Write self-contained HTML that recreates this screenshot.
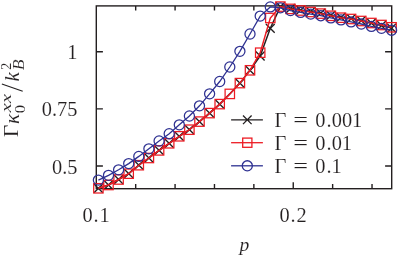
<!DOCTYPE html>
<html><head><meta charset="utf-8"><title>plot</title>
<style>html,body{margin:0;padding:0;background:#fff;}svg{display:block;will-change:transform;}text{font-family:"Liberation Serif",serif;fill:#231F20;stroke:#fff;stroke-width:0.1px;}</style>
</head><body>
<svg width="398" height="255" viewBox="0 0 398 255">
<rect x="0" y="0" width="398" height="255" fill="#fff"/>
<g stroke="#231F20" stroke-width="1.4" fill="none">
<rect x="96.3" y="5.9" width="295.4" height="182.8"/>
<path d="M135.69 188.70v-4.6M135.69 5.90v4.6"/>
<path d="M175.08 188.70v-4.6M175.08 5.90v4.6"/>
<path d="M214.47 188.70v-4.6M214.47 5.90v4.6"/>
<path d="M253.86 188.70v-4.6M253.86 5.90v4.6"/>
<path d="M293.25 188.70v-6.5M293.25 5.90v6.5"/>
<path d="M332.64 188.70v-4.6M332.64 5.90v4.6"/>
<path d="M372.03 188.70v-4.6M372.03 5.90v4.6"/>
<path d="M96.30 51.80h6.6M391.70 51.80h-6.6"/>
<path d="M96.30 108.90h6.6M391.70 108.90h-6.6"/>
<path d="M96.30 166.00h6.6M391.70 166.00h-6.6"/>
</g>
<g stroke="#231F20" fill="none">
<polyline stroke-width="1.5" points="98.4,188.3 108.5,185.0 118.6,179.5 128.7,173.7 138.8,165.2 148.9,158.0 159.1,150.4 169.2,143.3 179.3,136.3 189.4,129.7 199.5,121.6 209.6,113.1 219.7,104.1 229.8,93.9 239.9,83.1 250.0,70.3 260.2,56.0 270.3,28.3 280.4,6.6 290.5,8.5 300.6,10.1 310.7,11.6 320.8,13.2 330.9,15.4 341.0,17.3 351.1,18.6 361.3,20.6 371.4,23.2 381.5,25.5 391.6,28.1"/>
<path stroke-width="1.35" d="M94.0 183.9l8.8 8.8M94.0 192.7l8.8 -8.8M104.1 180.6l8.8 8.8M104.1 189.4l8.8 -8.8M114.2 175.1l8.8 8.8M114.2 183.9l8.8 -8.8M124.3 169.3l8.8 8.8M124.3 178.1l8.8 -8.8M134.4 160.8l8.8 8.8M134.4 169.6l8.8 -8.8M144.5 153.6l8.8 8.8M144.5 162.4l8.8 -8.8M154.7 146.0l8.8 8.8M154.7 154.8l8.8 -8.8M164.8 138.9l8.8 8.8M164.8 147.7l8.8 -8.8M174.9 131.9l8.8 8.8M174.9 140.7l8.8 -8.8M185.0 125.3l8.8 8.8M185.0 134.1l8.8 -8.8M195.1 117.2l8.8 8.8M195.1 126.0l8.8 -8.8M205.2 108.7l8.8 8.8M205.2 117.5l8.8 -8.8M215.3 99.7l8.8 8.8M215.3 108.5l8.8 -8.8M235.5 78.7l8.8 8.8M235.5 87.5l8.8 -8.8M245.6 65.9l8.8 8.8M245.6 74.7l8.8 -8.8M255.8 51.6l8.8 8.8M255.8 60.4l8.8 -8.8M265.9 23.9l8.8 8.8M265.9 32.7l8.8 -8.8M276.0 2.2l8.8 8.8M276.0 11.0l8.8 -8.8M286.1 4.1l8.8 8.8M286.1 12.9l8.8 -8.8M296.2 5.7l8.8 8.8M296.2 14.5l8.8 -8.8M306.3 7.2l8.8 8.8M306.3 16.0l8.8 -8.8M316.4 8.8l8.8 8.8M316.4 17.6l8.8 -8.8M326.5 11.0l8.8 8.8M326.5 19.8l8.8 -8.8M336.6 12.9l8.8 8.8M336.6 21.7l8.8 -8.8M346.8 14.2l8.8 8.8M346.8 23.0l8.8 -8.8M356.9 16.2l8.8 8.8M356.9 25.0l8.8 -8.8M367.0 18.8l8.8 8.8M367.0 27.6l8.8 -8.8M377.1 21.1l8.8 8.8M377.1 29.9l8.8 -8.8M387.2 23.7l8.8 8.8M387.2 32.5l8.8 -8.8"/>
</g>
<g stroke="#ED1C24" fill="none">
<polyline stroke-width="1.45" points="98.4,188.3 108.5,185.0 118.6,179.5 128.7,173.7 138.8,165.2 148.9,158.0 159.1,150.4 169.2,143.3 179.3,136.3 189.4,129.7 199.5,121.6 209.6,113.1 219.7,104.1 229.8,93.9 239.9,83.1 250.0,70.3 260.2,52.7 270.3,18.0 280.4,6.6 290.5,8.9 300.6,10.5 310.7,12.0 320.8,13.6 330.9,15.8 341.0,17.7 351.1,19.0 361.3,21.0 371.4,23.0 381.5,25.0 391.6,27.3"/>
<g stroke-width="1.25">
<rect x="93.7" y="183.6" width="9.4" height="9.4"/>
<rect x="103.8" y="180.3" width="9.4" height="9.4"/>
<rect x="113.9" y="174.8" width="9.4" height="9.4"/>
<rect x="124.0" y="169.0" width="9.4" height="9.4"/>
<rect x="134.1" y="160.5" width="9.4" height="9.4"/>
<rect x="144.2" y="153.3" width="9.4" height="9.4"/>
<rect x="154.4" y="145.7" width="9.4" height="9.4"/>
<rect x="164.5" y="138.6" width="9.4" height="9.4"/>
<rect x="174.6" y="131.6" width="9.4" height="9.4"/>
<rect x="184.7" y="125.0" width="9.4" height="9.4"/>
<rect x="194.8" y="116.9" width="9.4" height="9.4"/>
<rect x="204.9" y="108.4" width="9.4" height="9.4"/>
<rect x="215.0" y="99.4" width="9.4" height="9.4"/>
<rect x="225.1" y="89.2" width="9.4" height="9.4"/>
<rect x="235.2" y="78.4" width="9.4" height="9.4"/>
<rect x="245.3" y="65.6" width="9.4" height="9.4"/>
<rect x="255.5" y="48.0" width="9.4" height="9.4"/>
<rect x="265.6" y="13.3" width="9.4" height="9.4"/>
<rect x="275.7" y="1.9" width="9.4" height="9.4"/>
<rect x="285.8" y="4.2" width="9.4" height="9.4"/>
<rect x="295.9" y="5.8" width="9.4" height="9.4"/>
<rect x="306.0" y="7.3" width="9.4" height="9.4"/>
<rect x="316.1" y="8.9" width="9.4" height="9.4"/>
<rect x="326.2" y="11.1" width="9.4" height="9.4"/>
<rect x="336.3" y="13.0" width="9.4" height="9.4"/>
<rect x="346.4" y="14.3" width="9.4" height="9.4"/>
<rect x="356.6" y="16.3" width="9.4" height="9.4"/>
<rect x="366.7" y="18.3" width="9.4" height="9.4"/>
<rect x="376.8" y="20.3" width="9.4" height="9.4"/>
<rect x="386.9" y="22.6" width="9.4" height="9.4"/>
</g></g>
<g stroke="#2E3192" fill="none">
<polyline stroke-width="1.3" points="98.4,180.1 108.5,175.3 118.6,169.8 128.7,163.6 138.8,156.4 148.9,148.8 159.1,141.0 169.2,133.7 179.3,124.8 189.4,116.0 199.5,105.8 209.6,93.8 219.7,81.5 229.8,67.0 239.9,51.3 250.0,34.0 260.2,16.1 270.3,6.9 280.4,7.8 290.5,10.6 300.6,12.4 310.7,14.1 320.8,15.7 330.9,17.9 341.0,19.9 351.1,21.9 361.3,24.0 371.4,26.4 381.5,28.3 391.6,30.2"/>
<g stroke-width="1.25">
<circle cx="98.4" cy="180.1" r="5.05"/>
<circle cx="108.5" cy="175.3" r="5.05"/>
<circle cx="118.6" cy="169.8" r="5.05"/>
<circle cx="128.7" cy="163.6" r="5.05"/>
<circle cx="138.8" cy="156.4" r="5.05"/>
<circle cx="148.9" cy="148.8" r="5.05"/>
<circle cx="159.1" cy="141.0" r="5.05"/>
<circle cx="169.2" cy="133.7" r="5.05"/>
<circle cx="179.3" cy="124.8" r="5.05"/>
<circle cx="189.4" cy="116.0" r="5.05"/>
<circle cx="199.5" cy="105.8" r="5.05"/>
<circle cx="209.6" cy="93.8" r="5.05"/>
<circle cx="219.7" cy="81.5" r="5.05"/>
<circle cx="229.8" cy="67.0" r="5.05"/>
<circle cx="239.9" cy="51.3" r="5.05"/>
<circle cx="250.0" cy="34.0" r="5.05"/>
<circle cx="260.2" cy="16.1" r="5.05"/>
<circle cx="270.3" cy="6.9" r="5.05"/>
<circle cx="280.4" cy="7.8" r="5.05"/>
<circle cx="290.5" cy="10.6" r="5.05"/>
<circle cx="300.6" cy="12.4" r="5.05"/>
<circle cx="310.7" cy="14.1" r="5.05"/>
<circle cx="320.8" cy="15.7" r="5.05"/>
<circle cx="330.9" cy="17.9" r="5.05"/>
<circle cx="341.0" cy="19.9" r="5.05"/>
<circle cx="351.1" cy="21.9" r="5.05"/>
<circle cx="361.3" cy="24.0" r="5.05"/>
<circle cx="371.4" cy="26.4" r="5.05"/>
<circle cx="381.5" cy="28.3" r="5.05"/>
<circle cx="391.6" cy="30.2" r="5.05"/>
</g></g>
<g fill="none" stroke-width="1.3">
<path stroke="#231F20" d="M231.1 119.8H262.9M243.0 115.5l8.6 8.6M243.0 124.1l8.6 -8.6"/>
<path stroke="#ED1C24" stroke-width="1.3" d="M231.1 142.7H262.9"/><rect stroke="#ED1C24" stroke-width="1.3" x="242.7" y="138.1" width="9.2" height="9.2"/>
<path stroke="#2E3192" stroke-width="1.3" d="M231.1 165.8H262.9"/><circle stroke="#2E3192" stroke-width="1.3" cx="247.3" cy="165.8" r="5.05"/>
</g>
<g transform="translate(0 126.8) scale(1 1.05)">
<text x="274.4" y="0.0" font-size="20.4">Γ</text>
<text x="293.2" y="0.0" font-size="20.4" textLength="14.8" lengthAdjust="spacingAndGlyphs">=</text>
<text x="315.3 326.5 331.8 341.9 351.9" y="0.0" font-size="20.4">0.001</text>
</g>
<g transform="translate(0 149.8) scale(1 1.05)">
<text x="274.4" y="0.0" font-size="20.4">Γ</text>
<text x="293.2" y="0.0" font-size="20.4" textLength="14.8" lengthAdjust="spacingAndGlyphs">=</text>
<text x="315.3 326.5 331.8 341.7" y="0.0" font-size="20.4">0.01</text>
</g>
<g transform="translate(0 172.9) scale(1 1.05)">
<text x="274.4" y="0.0" font-size="20.4">Γ</text>
<text x="293.2" y="0.0" font-size="20.4" textLength="14.8" lengthAdjust="spacingAndGlyphs">=</text>
<text x="315.3 326.5 331.4" y="0.0" font-size="20.4">0.1</text>
</g>
<text transform="translate(77.5 59.3) scale(1 1.05)" font-size="20.4" text-anchor="end">1</text>
<text transform="translate(77.5 116.4) scale(1 1.05)" font-size="20.4" text-anchor="end">0.75</text>
<text transform="translate(77.5 173.5) scale(1 1.05)" font-size="20.4" text-anchor="end">0.5</text>
<text transform="translate(0 221.6) scale(1 1.05)" font-size="20.4" x="82.6 93.6 99.4">0.1</text>
<text transform="translate(0 221.7) scale(1 1.05)" font-size="20.4" x="279.6 290.6 296.4">0.2</text>
<text x="239.5" y="250.6" font-size="19.6" font-style="italic">p</text>
<g transform="translate(18.5,136.9) rotate(-90)">
<text x="-0.4" y="-0.8" font-size="21" textLength="12.6" lengthAdjust="spacingAndGlyphs">Γ</text>
<text x="13.0" y="0" font-size="20.5" font-style="italic" textLength="10.2" lengthAdjust="spacingAndGlyphs">κ</text>
<text x="23.6" y="6.0" font-size="14.5" textLength="8.4" lengthAdjust="spacingAndGlyphs">0</text>
<text x="24.4" y="-7.9" font-size="14.5" font-style="italic" textLength="18.6" lengthAdjust="spacingAndGlyphs">xx</text>
<path d="M45.6 4.2L53.0 -16.6" stroke="#231F20" stroke-width="1.1" fill="none"/>
<text x="55.3" y="0" font-size="21" font-style="italic">k</text>
<text x="66.9" y="-8.0" font-size="14.5">2</text>
<text x="66.6" y="5.8" font-size="16.6" font-style="italic" textLength="10.8" lengthAdjust="spacingAndGlyphs">B</text>
</g>
</svg></body></html>
